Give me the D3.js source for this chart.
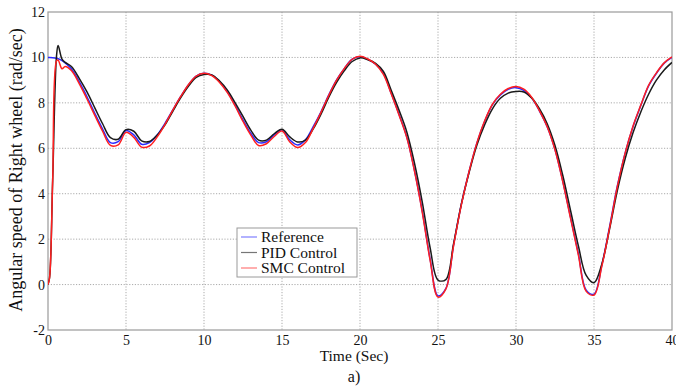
<!DOCTYPE html>
<html>
<head>
<meta charset="utf-8">
<script src="https://cdn.jsdelivr.net/npm/d3@7"></script>
<style>
  html, body { margin: 0; padding: 0; background: #fff; }
  svg { display: block; font-family: "Liberation Serif", "Times New Roman", serif; }
</style>
</head>
<body>
<svg id="chart" width="676" height="387"></svg>
<script>
// time samples (sec)
const time = [0, 0.1, 0.3, 0.55, 0.65, 0.9, 1.1, 1.5, 2, 2.5, 3, 3.5, 4, 4.5, 5, 5.5, 6, 6.5, 7, 7.5,
  8, 8.5, 9, 9.5, 10, 10.5, 11, 11.5, 12, 12.5, 13, 13.5, 14, 14.5, 15, 15.5, 16, 16.5, 17, 17.5,
  18, 18.5, 19, 19.5, 20, 20.5, 21, 21.5, 22, 22.5, 23, 23.5, 24, 24.5, 25, 25.5, 26, 26.5, 27, 27.5,
  28, 28.5, 29, 29.5, 30, 30.5, 31, 31.5, 32, 32.5, 33, 33.5, 34, 34.5, 35, 35.5, 36, 36.5, 37, 37.5,
  38, 38.5, 39, 39.5, 40];

const reference = [10.0, 10.0, 9.99, 9.96, 9.94, 9.86, 9.76, 9.5, 8.93, 8.27, 7.54, 6.85, 6.25, 6.29, 6.78, 6.59, 6.18, 6.25, 6.59, 7.1,
  7.69, 8.27, 8.79, 9.18, 9.3, 9.22, 8.93, 8.49, 7.9, 7.25, 6.66, 6.25, 6.29, 6.59, 6.81, 6.37, 6.15, 6.37, 6.95, 7.61,
  8.35, 9.01, 9.52, 9.92, 10.03, 9.92, 9.7, 9.3, 8.42, 7.5, 6.5, 5.0, 3.2, 1.1, -0.5, -0.18, 1.75, 3.55, 5.0, 6.25,
  7.2, 7.93, 8.35, 8.6, 8.67, 8.55, 8.22, 7.65, 6.95, 5.95, 4.55, 2.95, 1.35, -0.25, -0.42, 0.85, 2.55, 4.35, 5.8, 6.95,
  7.88, 8.75, 9.3, 9.75, 10.0];

const pid = [0, 0.3, 4.6, 10.1, 10.52, 9.92, 9.78, 9.6, 9.08, 8.48, 7.78, 7.08, 6.47, 6.4, 6.82, 6.75, 6.33, 6.3, 6.58, 7.03,
  7.63, 8.22, 8.73, 9.12, 9.25, 9.23, 8.96, 8.56, 8.0, 7.4, 6.8, 6.36, 6.36, 6.64, 6.84, 6.5, 6.28, 6.36, 6.85, 7.5,
  8.25, 8.9, 9.42, 9.82, 9.98, 9.9, 9.74, 9.38, 8.55, 7.68, 6.72, 5.32, 3.6, 1.6, 0.2, 0.22, 1.8, 3.55, 4.95, 6.15,
  7.05, 7.75, 8.2, 8.43, 8.5, 8.48, 8.22, 7.74, 7.08, 6.12, 4.8, 3.25, 1.7, 0.4, 0.08, 0.9, 2.45, 4.15, 5.55, 6.68,
  7.6, 8.38, 9.0, 9.45, 9.78];

const smc = [0, 0.3, 4.6, 9.85, 9.88, 9.5, 9.6, 9.42, 8.85, 8.17, 7.45, 6.75, 6.13, 6.15, 6.7, 6.48, 6.05, 6.1, 6.5, 7.05,
  7.68, 8.27, 8.8, 9.18, 9.3, 9.2, 8.9, 8.45, 7.85, 7.18, 6.58, 6.12, 6.2, 6.52, 6.76, 6.28, 6.03, 6.25, 6.88, 7.58,
  8.33, 9.0, 9.52, 9.92, 10.05, 9.93, 9.7, 9.25, 8.4, 7.47, 6.47, 4.97, 3.15, 1.05, -0.55, -0.2, 1.72, 3.52, 5.0, 6.25,
  7.22, 7.95, 8.38, 8.63, 8.72, 8.6, 8.25, 7.66, 6.95, 5.93, 4.52, 2.9, 1.3, -0.3, -0.46, 0.8, 2.5, 4.32, 5.8, 6.97,
  7.9, 8.77, 9.32, 9.76, 10.02];

const xTicks = [0, 5, 10, 15, 20, 25, 30, 35, 40];
const yTicks = [-2, 0, 2, 4, 6, 8, 10, 12];

const seriesNames = ['Reference', 'PID Control', 'SMC Control'];
const seriesColors = ['#2a2aff', '#1a1a1a', '#ff1f1f'];

const svg = d3.select('#chart');
const margin = { left: 48, right: 4, top: 12, bottom: 57 };
const width = 676, height = 387;
const plotW = width - margin.left - margin.right;
const plotH = height - margin.top - margin.bottom;
const serif = '"Liberation Serif", "Times New Roman", serif';

const x = d3.scaleLinear().domain([0, 40]).range([0, plotW]);
const y = d3.scaleLinear().domain([-2, 12]).range([plotH, 0]);

const g = svg.append('g').attr('transform', `translate(${margin.left},${margin.top})`);

// dotted grid
g.append('g')
  .selectAll('line')
  .data(xTicks.slice(1, -1))
  .join('line')
  .attr('x1', d => x(d)).attr('x2', d => x(d))
  .attr('y1', 0).attr('y2', plotH)
  .attr('stroke', '#ababab')
  .attr('stroke-dasharray', '1.2,1.6');

g.append('g')
  .selectAll('line')
  .data(yTicks.slice(1, -1))
  .join('line')
  .attr('x1', 0).attr('x2', plotW)
  .attr('y1', d => y(d)).attr('y2', d => y(d))
  .attr('stroke', '#ababab')
  .attr('stroke-dasharray', '1.2,1.6');

// axes (plain hyphen for negatives, like the original)
const xAxis = d3.axisBottom(x).tickValues(xTicks).tickFormat(d => String(d)).tickSize(0).tickPadding(5);
const yAxis = d3.axisLeft(y).tickValues(yTicks).tickFormat(d => String(d)).tickSize(0).tickPadding(3);

g.append('g')
  .attr('transform', `translate(0,${plotH})`)
  .call(xAxis)
  .attr('font-family', serif)
  .attr('font-size', 14)
  .call(s => s.select('.domain').remove())
  .selectAll('text')
  .attr('fill', '#111');

g.append('g')
  .call(yAxis)
  .attr('font-family', serif)
  .attr('font-size', 14)
  .call(s => s.select('.domain').remove())
  .selectAll('text')
  .attr('fill', '#111');

// frame
g.append('rect')
  .attr('width', plotW).attr('height', plotH)
  .attr('fill', 'none')
  .attr('stroke', '#9a9a9a')
  .attr('stroke-width', 1.2);

// lines
g.append('clipPath').attr('id', 'clip')
  .append('rect').attr('width', plotW).attr('height', plotH);

const line = d3.line()
  .x(d => x(d[0]))
  .y(d => y(d[1]))
  .curve(d3.curveCatmullRom.alpha(0.5));

const seriesValues = [reference, pid, smc];
seriesValues.forEach((vals, i) => {
  g.append('path')
    .datum(time.map((t, k) => [t, vals[k]]))
    .attr('d', line)
    .attr('fill', 'none')
    .attr('stroke', seriesColors[i])
    .attr('stroke-width', 1.5)
    .attr('clip-path', 'url(#clip)');
});

// legend
const legend = svg.append('g').attr('transform', 'translate(237,228)');
legend.append('rect')
  .attr('width', 120).attr('height', 49)
  .attr('fill', '#fff')
  .attr('stroke', '#9a9a9a');

seriesNames.forEach((name, i) => {
  const row = legend.append('g').attr('transform', `translate(0,${9 + i * 15.5})`);
  row.append('line')
    .attr('x1', 4).attr('x2', 20)
    .attr('stroke', seriesColors[i])
    .attr('stroke-opacity', 0.6)
    .attr('stroke-width', 1.2);
  row.append('text')
    .attr('x', 24).attr('y', 5)
    .style('font-size', '15.5px')
    .style('fill', '#111')
    .text(name);
});

// axis titles
svg.append('text')
  .attr('x', margin.left + plotW / 2 - 6)
  .attr('y', 361)
  .attr('text-anchor', 'middle')
  .style('font-size', '15.5px')
  .style('fill', '#111')
  .text('Time (Sec)');

svg.append('text')
  .attr('x', margin.left + plotW / 2 - 6)
  .attr('y', 382)
  .attr('text-anchor', 'middle')
  .style('font-size', '16px')
  .style('fill', '#111')
  .text('a)');

svg.append('text')
  .attr('transform', 'translate(22,170) rotate(-90)')
  .attr('text-anchor', 'middle')
  .style('font-size', '18px')
  .style('fill', '#111')
  .text('Angular speed of Right wheel (rad/sec)');
</script>
</body>
</html>
